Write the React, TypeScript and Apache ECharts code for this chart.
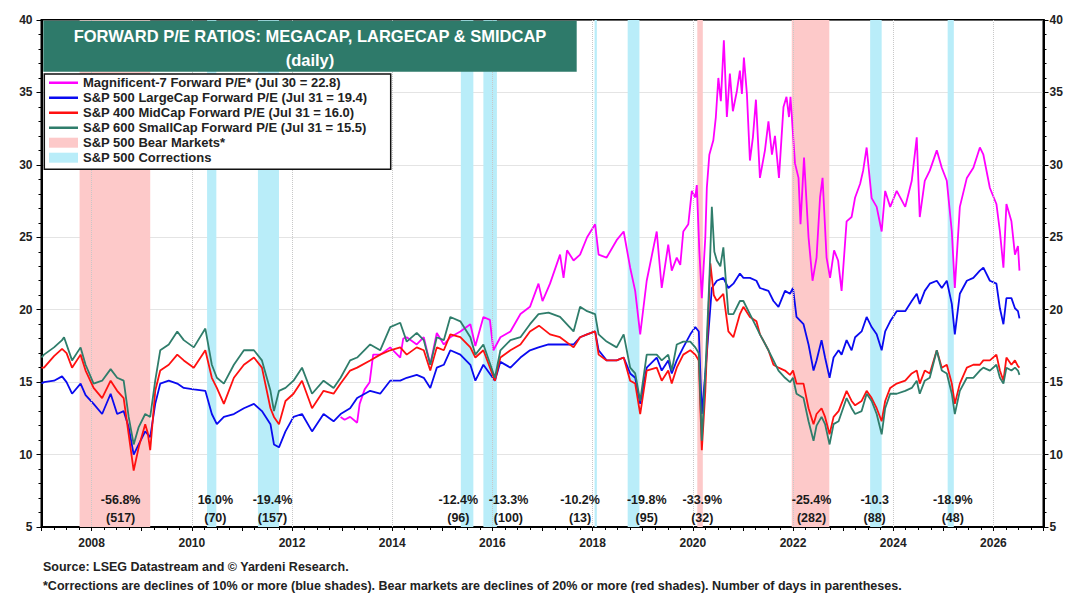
import React, { useEffect, useRef } from "react";
import * as echarts from "echarts";

const FONT = "'Liberation Sans', Arial, Helvetica, sans-serif";

const NAME_MAG7 = "Magnificent-7 Forward P/E* (Jul 30 = 22.8)";
const NAME_LARGE = "S&P 500 LargeCap Forward P/E (Jul 31 = 19.4)";
const NAME_MID = "S&P 400 MidCap Forward P/E (Jul 31 = 16.0)";
const NAME_SMALL = "S&P 600 SmallCap Forward P/E (Jul 31 = 15.5)";
const NAME_BEAR = "S&P 500 Bear Markets*";
const NAME_CORR = "S&P 500 Corrections";

// [decimal year, forward P/E]
const MAG7: [number, number][] = [
  [2012.97, 12.6], [2013.05, 12.4], [2013.16, 12.6], [2013.3, 12.2], [2013.35, 13.5], [2013.45, 14.5],
  [2013.55, 15.0], [2013.62, 16.9], [2013.76, 16.9], [2013.96, 17.4], [2014.16, 16.7], [2014.22, 18.0],
  [2014.29, 18.1], [2014.49, 17.6], [2014.63, 18.1], [2014.76, 16.2], [2014.89, 18.4], [2015.03, 17.6],
  [2015.16, 18.1], [2015.36, 18.5], [2015.56, 19.0], [2015.66, 17.5], [2015.82, 19.5], [2015.95, 19.3],
  [2016.02, 17.2], [2016.16, 18.1], [2016.36, 18.5], [2016.56, 19.7], [2016.75, 20.2], [2016.92, 21.8],
  [2017.0, 20.6], [2017.15, 21.8], [2017.35, 23.8], [2017.42, 22.2], [2017.49, 24.1], [2017.62, 23.4],
  [2017.75, 23.8], [2017.89, 25.0], [2018.05, 25.9], [2018.12, 23.8], [2018.28, 23.6], [2018.48, 24.8],
  [2018.62, 25.4], [2018.75, 22.9], [2018.85, 21.3], [2018.95, 18.3], [2019.08, 22.0], [2019.28, 25.4],
  [2019.38, 21.5], [2019.51, 24.5], [2019.58, 22.7], [2019.68, 23.6], [2019.75, 23.1], [2019.81, 25.4],
  [2019.91, 25.9], [2019.98, 28.2], [2020.05, 27.75], [2020.08, 28.6], [2020.13, 24.1], [2020.18, 20.8],
  [2020.25, 25.0], [2020.28, 28.4], [2020.33, 30.7], [2020.41, 31.7], [2020.46, 33.3], [2020.51, 36.0],
  [2020.56, 34.4], [2020.62, 38.6], [2020.68, 33.3], [2020.74, 36.3], [2020.8, 33.7], [2020.88, 35.1],
  [2020.94, 36.5], [2020.98, 34.9], [2021.02, 37.4], [2021.08, 34.9], [2021.14, 30.3], [2021.2, 31.9],
  [2021.26, 34.5], [2021.34, 29.1], [2021.44, 31.0], [2021.51, 33.0], [2021.58, 30.7], [2021.64, 32.0],
  [2021.72, 29.1], [2021.81, 34.0], [2021.87, 34.7], [2021.92, 33.3], [2021.95, 34.7], [2022.04, 30.1],
  [2022.11, 29.1], [2022.15, 25.9], [2022.22, 30.5], [2022.31, 25.0], [2022.39, 22.0], [2022.47, 23.6],
  [2022.54, 27.75], [2022.59, 29.1], [2022.67, 23.6], [2022.74, 22.2], [2022.82, 24.1], [2022.9, 23.4],
  [2022.97, 21.3], [2023.07, 26.1], [2023.17, 26.4], [2023.24, 27.75], [2023.34, 28.7], [2023.4, 29.6],
  [2023.47, 31.2], [2023.57, 27.7], [2023.67, 27.1], [2023.77, 25.4], [2023.84, 28.2], [2023.94, 27.1],
  [2024.07, 28.2], [2024.24, 27.1], [2024.37, 28.9], [2024.47, 31.9], [2024.53, 26.4], [2024.63, 28.9],
  [2024.73, 29.6], [2024.87, 31.0], [2024.97, 29.8], [2025.07, 28.9], [2025.17, 25.4], [2025.23, 21.5],
  [2025.33, 27.1], [2025.47, 29.1], [2025.6, 29.8], [2025.73, 31.2], [2025.8, 30.7], [2025.93, 28.4],
  [2026.06, 27.3], [2026.13, 25.4], [2026.2, 22.9], [2026.26, 27.3], [2026.36, 26.1], [2026.43, 23.8],
  [2026.49, 24.4], [2026.52, 22.7],
];

const LARGE: [number, number][] = [
  [2007.0, 14.9], [2007.05, 15.0], [2007.25, 15.1], [2007.41, 15.4], [2007.5, 15.0], [2007.61, 14.2],
  [2007.78, 14.9], [2007.88, 14.1], [2008.04, 13.5], [2008.21, 12.8], [2008.38, 14.2], [2008.51, 12.8],
  [2008.64, 13.0], [2008.74, 11.9], [2008.84, 10.0], [2008.94, 10.7], [2009.07, 11.6], [2009.17, 11.2],
  [2009.27, 13.5], [2009.37, 14.9], [2009.54, 15.1], [2009.71, 14.9], [2009.84, 14.6], [2010.04, 14.5],
  [2010.27, 14.4], [2010.4, 12.8], [2010.5, 12.1], [2010.64, 12.6], [2010.84, 12.8], [2011.04, 13.2],
  [2011.24, 13.5], [2011.4, 13.0], [2011.57, 12.1], [2011.64, 10.7], [2011.74, 10.5], [2011.87, 11.6],
  [2012.03, 12.6], [2012.2, 12.8], [2012.4, 11.6], [2012.63, 12.8], [2012.83, 12.3], [2012.97, 12.8],
  [2013.16, 13.2], [2013.3, 13.9], [2013.56, 14.4], [2013.76, 14.2], [2013.96, 15.1], [2014.16, 15.1],
  [2014.29, 15.3], [2014.49, 15.5], [2014.63, 15.3], [2014.76, 14.6], [2014.89, 16.0], [2015.03, 16.2],
  [2015.16, 17.2], [2015.36, 16.9], [2015.56, 16.2], [2015.66, 15.1], [2015.82, 16.2], [2016.05, 15.1],
  [2016.16, 16.4], [2016.36, 16.0], [2016.56, 16.7], [2016.75, 17.2], [2016.92, 17.4], [2017.12, 17.6],
  [2017.35, 17.6], [2017.62, 17.6], [2017.75, 18.1], [2017.89, 18.3], [2018.05, 18.5], [2018.12, 17.2],
  [2018.28, 16.5], [2018.48, 16.5], [2018.62, 16.7], [2018.75, 15.6], [2018.85, 15.3], [2018.95, 13.5],
  [2019.08, 16.0], [2019.28, 16.7], [2019.38, 15.8], [2019.51, 16.5], [2019.58, 15.6], [2019.68, 16.5],
  [2019.81, 17.4], [2019.95, 18.3], [2020.05, 18.8], [2020.12, 18.5], [2020.18, 12.8], [2020.25, 15.6],
  [2020.38, 21.5], [2020.48, 22.0], [2020.61, 22.2], [2020.71, 21.5], [2020.81, 21.8], [2020.94, 22.5],
  [2021.01, 22.2], [2021.14, 22.2], [2021.27, 22.0], [2021.34, 21.5], [2021.51, 21.3], [2021.61, 20.6],
  [2021.71, 20.2], [2021.84, 21.3], [2021.94, 21.1], [2022.0, 21.5], [2022.07, 19.5], [2022.21, 19.0],
  [2022.31, 17.6], [2022.41, 15.8], [2022.47, 16.5], [2022.57, 17.9], [2022.64, 16.7], [2022.73, 15.3],
  [2022.81, 16.7], [2022.91, 17.2], [2022.97, 16.9], [2023.07, 17.9], [2023.17, 17.2], [2023.24, 18.1],
  [2023.37, 18.5], [2023.47, 19.5], [2023.57, 18.8], [2023.67, 18.3], [2023.77, 17.2], [2023.84, 18.5],
  [2023.94, 19.2], [2024.07, 19.9], [2024.24, 19.9], [2024.37, 20.6], [2024.47, 21.1], [2024.53, 20.4],
  [2024.63, 21.3], [2024.73, 21.8], [2024.87, 22.0], [2024.97, 21.5], [2025.07, 22.0], [2025.17, 20.4],
  [2025.23, 18.3], [2025.33, 21.1], [2025.47, 22.0], [2025.6, 22.2], [2025.73, 22.7], [2025.8, 22.9],
  [2025.93, 22.0], [2026.06, 21.8], [2026.13, 20.1], [2026.2, 19.0], [2026.26, 20.8], [2026.36, 20.8],
  [2026.43, 20.1], [2026.49, 19.9], [2026.52, 19.4],
];

const MID: [number, number][] = [
  [2007.0, 16.0], [2007.05, 16.0], [2007.25, 16.8], [2007.41, 17.3], [2007.5, 17.0], [2007.61, 16.0],
  [2007.78, 16.9], [2007.88, 15.8], [2008.04, 14.6], [2008.21, 13.9], [2008.38, 15.1], [2008.51, 14.4],
  [2008.64, 13.9], [2008.74, 11.4], [2008.84, 8.9], [2008.94, 10.5], [2009.07, 12.1], [2009.12, 11.5],
  [2009.17, 10.3], [2009.27, 14.4], [2009.37, 15.8], [2009.54, 16.2], [2009.71, 16.9], [2009.84, 16.5],
  [2010.04, 16.0], [2010.27, 17.2], [2010.4, 15.3], [2010.5, 14.6], [2010.64, 13.5], [2010.84, 15.3],
  [2011.04, 16.2], [2011.24, 16.7], [2011.4, 16.0], [2011.57, 13.2], [2011.64, 12.6], [2011.74, 12.1],
  [2011.87, 13.7], [2012.03, 14.2], [2012.2, 15.1], [2012.4, 13.2], [2012.63, 14.4], [2012.83, 14.2],
  [2012.97, 14.9], [2013.16, 15.8], [2013.3, 16.0], [2013.56, 16.5], [2013.76, 16.9], [2013.96, 17.2],
  [2014.16, 17.4], [2014.29, 16.9], [2014.49, 17.4], [2014.63, 17.2], [2014.76, 15.8], [2014.89, 17.4],
  [2015.03, 17.2], [2015.16, 18.3], [2015.36, 18.1], [2015.56, 17.4], [2015.66, 16.7], [2015.82, 17.2],
  [2016.05, 15.1], [2016.16, 16.7], [2016.36, 17.2], [2016.56, 17.6], [2016.75, 18.5], [2016.93, 18.9],
  [2017.15, 18.3], [2017.35, 18.1], [2017.62, 17.4], [2017.75, 18.1], [2017.89, 18.3], [2018.05, 18.5],
  [2018.12, 16.9], [2018.28, 16.5], [2018.48, 16.5], [2018.62, 16.7], [2018.75, 15.1], [2018.85, 14.9],
  [2018.95, 12.8], [2019.08, 15.8], [2019.28, 16.0], [2019.38, 15.1], [2019.51, 15.8], [2019.58, 14.9],
  [2019.68, 16.0], [2019.81, 16.9], [2019.95, 17.2], [2020.05, 16.9], [2020.12, 16.5], [2020.18, 10.3],
  [2020.25, 14.4], [2020.35, 23.2], [2020.42, 21.0], [2020.48, 20.6], [2020.61, 21.1], [2020.71, 18.5],
  [2020.81, 18.1], [2020.94, 19.7], [2021.01, 20.2], [2021.14, 19.5], [2021.27, 19.2], [2021.34, 18.3],
  [2021.51, 17.2], [2021.61, 16.2], [2021.71, 16.0], [2021.84, 15.8], [2021.94, 15.5], [2022.0, 15.8],
  [2022.07, 14.9], [2022.21, 14.9], [2022.31, 13.2], [2022.41, 12.1], [2022.47, 12.8], [2022.57, 13.2],
  [2022.64, 12.6], [2022.73, 11.4], [2022.81, 12.6], [2022.91, 13.0], [2023.07, 14.4], [2023.17, 13.7],
  [2023.24, 13.4], [2023.37, 13.7], [2023.47, 14.4], [2023.57, 13.9], [2023.67, 13.2], [2023.77, 12.3],
  [2023.84, 13.7], [2023.94, 14.6], [2024.07, 14.9], [2024.24, 15.1], [2024.37, 15.6], [2024.47, 15.8],
  [2024.53, 14.9], [2024.63, 15.8], [2024.73, 15.6], [2024.87, 17.2], [2024.97, 16.0], [2025.07, 16.2],
  [2025.17, 14.9], [2025.23, 13.5], [2025.33, 14.9], [2025.47, 16.0], [2025.6, 16.2], [2025.73, 16.2],
  [2025.8, 16.5], [2025.93, 16.5], [2026.06, 16.9], [2026.13, 15.8], [2026.2, 15.1], [2026.26, 16.7],
  [2026.36, 16.2], [2026.43, 16.5], [2026.49, 16.1], [2026.52, 16.0],
];

const SMALL: [number, number][] = [
  [2007.0, 16.7], [2007.05, 16.9], [2007.25, 17.4], [2007.41, 17.9], [2007.45, 18.1], [2007.61, 16.5],
  [2007.78, 17.4], [2007.88, 16.2], [2008.04, 14.9], [2008.21, 15.1], [2008.38, 15.9], [2008.51, 15.3],
  [2008.64, 15.1], [2008.74, 12.6], [2008.84, 10.7], [2008.94, 11.9], [2009.07, 12.8], [2009.17, 12.6],
  [2009.27, 15.1], [2009.37, 17.2], [2009.54, 17.6], [2009.71, 18.5], [2009.84, 17.9], [2010.04, 17.4],
  [2010.27, 18.7], [2010.4, 16.2], [2010.5, 15.3], [2010.64, 14.9], [2010.84, 16.2], [2011.04, 17.2],
  [2011.24, 17.2], [2011.4, 16.5], [2011.57, 14.4], [2011.64, 13.0], [2011.74, 14.4], [2011.87, 14.6],
  [2012.03, 15.1], [2012.2, 16.0], [2012.4, 14.2], [2012.63, 15.1], [2012.83, 14.6], [2012.97, 15.3],
  [2013.16, 16.5], [2013.3, 16.7], [2013.56, 17.6], [2013.76, 17.2], [2013.96, 18.8], [2014.16, 19.1],
  [2014.29, 17.8], [2014.49, 18.4], [2014.63, 17.9], [2014.76, 16.2], [2014.89, 18.1], [2015.03, 17.9],
  [2015.16, 19.5], [2015.36, 19.2], [2015.56, 18.1], [2015.66, 16.9], [2015.82, 17.6], [2016.05, 15.3],
  [2016.16, 17.2], [2016.36, 17.9], [2016.56, 18.1], [2016.75, 19.0], [2016.92, 19.7], [2017.12, 19.8],
  [2017.35, 19.5], [2017.62, 18.5], [2017.75, 20.2], [2017.89, 19.9], [2018.05, 19.7], [2018.12, 18.3],
  [2018.28, 17.8], [2018.48, 17.4], [2018.62, 18.3], [2018.75, 16.0], [2018.85, 15.6], [2018.95, 13.7],
  [2019.08, 16.9], [2019.28, 16.9], [2019.38, 16.5], [2019.51, 16.9], [2019.58, 15.8], [2019.68, 17.6],
  [2019.81, 17.8], [2019.95, 17.8], [2020.05, 17.4], [2020.12, 17.0], [2020.18, 10.95], [2020.25, 15.6],
  [2020.33, 22.0], [2020.38, 27.1], [2020.43, 24.0], [2020.48, 23.4], [2020.55, 23.0], [2020.61, 24.3],
  [2020.71, 19.7], [2020.81, 19.7], [2020.94, 20.6], [2021.01, 20.6], [2021.14, 19.7], [2021.27, 18.8],
  [2021.34, 18.3], [2021.51, 17.2], [2021.61, 16.5], [2021.71, 15.8], [2021.84, 15.3], [2021.94, 15.0],
  [2022.0, 15.3], [2022.07, 14.2], [2022.21, 13.9], [2022.31, 12.3], [2022.41, 10.95], [2022.47, 12.0],
  [2022.57, 12.6], [2022.64, 12.1], [2022.73, 10.7], [2022.81, 12.1], [2022.91, 12.3], [2023.07, 13.9],
  [2023.17, 13.2], [2023.24, 12.8], [2023.37, 13.0], [2023.47, 14.2], [2023.57, 13.7], [2023.67, 12.8],
  [2023.77, 11.4], [2023.84, 13.2], [2023.94, 14.2], [2024.07, 14.2], [2024.24, 14.4], [2024.37, 14.6],
  [2024.47, 15.1], [2024.53, 14.2], [2024.63, 15.1], [2024.73, 15.3], [2024.87, 17.2], [2024.97, 15.8],
  [2025.07, 15.6], [2025.17, 14.2], [2025.23, 12.8], [2025.33, 14.4], [2025.47, 15.3], [2025.6, 15.3],
  [2025.73, 15.8], [2025.8, 16.0], [2025.93, 15.8], [2026.06, 16.2], [2026.13, 15.3], [2026.2, 14.9],
  [2026.26, 16.0], [2026.36, 15.8], [2026.43, 16.0], [2026.49, 15.8], [2026.52, 15.5],
];

const BEAR_MARKETS: [number, number][] = [
  [2007.76, 2009.17], [2020.09, 2020.2], [2021.975, 2022.725],
];
const CORRECTIONS: [number, number][] = [
  [2010.305, 2010.49], [2011.32, 2011.74], [2015.37, 2015.62], [2015.82, 2016.09],
  [2018.04, 2018.085], [2018.7, 2018.935], [2023.54, 2023.77], [2025.087, 2025.21],
];

const ANNOT_X = [2008.58, 2010.47, 2011.61, 2015.32, 2016.32, 2017.75, 2019.08, 2020.19, 2022.37, 2023.63, 2025.19];
const ANNOT_PCT = ["-56.8%", "16.0%", "-19.4%", "-12.4%", "-13.3%", "-10.2%", "-19.8%", "-33.9%", "-25.4%", "-10.3", "-18.9%"];
const ANNOT_DAYS = ["(517)", "(70)", "(157)", "(96)", "(100)", "(13)", "(95)", "(32)", "(282)", "(88)", "(48)"];
const ANNOT_Y = 6.25;

const GRID_YEARS = [2008, 2010, 2012, 2014, 2016, 2018, 2020, 2022, 2024, 2026];

const X_MIN = 2007;
const X_MAX = 2027;
const Y_MIN = 5;
const Y_MAX = 40;
const Y_STEP = 5;

const TITLE_LINE1 = "FORWARD P/E RATIOS: MEGACAP, LARGECAP & SMIDCAP";
const TITLE_LINE2 = "(daily)";
const SOURCE_TEXT = "Source: LSEG Datastream and \u00A9 Yardeni Research.";
const NOTE_TEXT =
  "*Corrections are declines of 10% or more (blue shades). Bear markets are declines of 20% or more (red shades). Number of days in parentheses.";

const C_MAG = "#ff00ff";
const C_LARGE = "#0a0af0";
const C_MID = "#ff1010";
const C_SMALL = "#2f7d6b";
const C_BEAR = "#fdc9c9";
const C_CORR = "#b9edf9";
const C_TITLE = "#2e7a6a";

// thin horizontal bar centred in a 29x10 box (legend line swatch)
const LINE_ICON = "path://M0,0H0.01V0.01H0Z M0,3.7H29V6.3H0Z M28.99,9.99H29V10H28.99Z";

export default function App() {
  const ref = useRef<HTMLDivElement>(null);

  useEffect(() => {
    if (!ref.current) return;
    const chart = echarts.init(ref.current, undefined, { renderer: "svg" });

    const yAxisCommon = {
      type: "value",
      min: Y_MIN,
      max: Y_MAX,
      interval: Y_STEP,
      axisLine: { show: true, lineStyle: { color: "#000", width: 2 } },
      axisTick: { show: true, length: 5, lineStyle: { color: "#000", width: 1 } },
      minorTick: { show: true, splitNumber: 5, length: 3, lineStyle: { color: "#000", width: 1 } },
      axisLabel: { color: "#222", fontWeight: "bold", fontSize: 12, fontFamily: FONT },
    };

    const lineSeries = (name: string, data: [number, number][], color: string, z: number) => ({
      type: "line",
      name,
      data,
      symbol: "none",
      showSymbol: false,
      silent: true,
      z,
      lineStyle: { color, width: 1.8 },
      itemStyle: { color },
    });

    chart.setOption({
      animation: false,
      backgroundColor: "#ffffff",
      textStyle: { fontFamily: FONT },
      grid: {
        left: 41.5,
        right: 36.5,
        top: 20,
        bottom: 81,
        show: true,
        borderColor: "#000",
        borderWidth: 2,
        backgroundColor: "transparent",
        containLabel: false,
        outerBoundsMode: "none",
      },
      xAxis: {
        type: "value",
        min: X_MIN,
        max: X_MAX,
        interval: 1,
        axisLine: { show: true, lineStyle: { color: "#000", width: 2 } },
        axisTick: { show: true, length: 4, lineStyle: { color: "#000", width: 1 } },
        minorTick: { show: true, splitNumber: 4, length: 3, lineStyle: { color: "#000", width: 1 } },
        splitLine: { show: false },
        axisLabel: {
          formatter: (v: number) => (Math.round(v) % 2 === 0 ? String(Math.round(v)) : ""),
          color: "#222",
          fontWeight: "bold",
          fontSize: 12,
          fontFamily: FONT,
          margin: 10,
          showMinLabel: true,
          showMaxLabel: true,
        },
      },
      yAxis: [
        {
          ...yAxisCommon,
          position: "left",
          axisLabel: { ...yAxisCommon.axisLabel, margin: 9 },
          splitLine: { show: true, lineStyle: { type: "dotted", color: "#c8c8c8", width: 1 } },
        },
        {
          ...yAxisCommon,
          position: "right",
          axisLabel: { ...yAxisCommon.axisLabel, margin: 6 },
          splitLine: { show: false },
        },
      ],
      legend: {
        data: [
          { name: NAME_MAG7, icon: LINE_ICON },
          { name: NAME_LARGE, icon: LINE_ICON },
          { name: NAME_MID, icon: LINE_ICON },
          { name: NAME_SMALL, icon: LINE_ICON },
          { name: NAME_BEAR, icon: "rect" },
          { name: NAME_CORR, icon: "rect" },
        ],
        orient: "vertical",
        left: 49,
        top: 75.2,
        padding: 0,
        itemGap: 0,
        itemWidth: 29,
        itemHeight: 10,
        z: 20,
        selectedMode: false,
        textStyle: { color: "#222", fontWeight: "bold", fontSize: 13, fontFamily: FONT, lineHeight: 15 },
      },
      graphic: [
        {
          type: "rect",
          z: 10,
          silent: true,
          shape: { x: 43.3, y: 20.7, width: 533.4, height: 51 },
          style: { fill: C_TITLE },
        },
        {
          type: "text",
          z: 11,
          silent: true,
          x: 310,
          y: 35.5,
          style: {
            text: TITLE_LINE1,
            fill: "#ffffff",
            fontFamily: FONT,
            fontWeight: "bold",
            fontSize: 16.5,
            align: "center",
            verticalAlign: "middle",
          },
        },
        {
          type: "text",
          z: 11,
          silent: true,
          x: 310,
          y: 59.5,
          style: {
            text: TITLE_LINE2,
            fill: "#ffffff",
            fontFamily: FONT,
            fontWeight: "bold",
            fontSize: 16.5,
            align: "center",
            verticalAlign: "middle",
          },
        },
        {
          type: "rect",
          z: 10,
          silent: true,
          shape: { x: 44.3, y: 74, width: 346.4, height: 95.3 },
          style: { fill: "#ffffff", stroke: "#111", lineWidth: 1.5 },
        },
        {
          type: "text",
          silent: true,
          x: 43,
          y: 567,
          style: {
            text: SOURCE_TEXT,
            fill: "#222",
            fontFamily: FONT,
            fontWeight: "bold",
            fontSize: 12.5,
            align: "left",
            verticalAlign: "middle",
          },
        },
        {
          type: "text",
          silent: true,
          x: 43,
          y: 585.5,
          style: {
            text: NOTE_TEXT,
            fill: "#222",
            fontFamily: FONT,
            fontWeight: "bold",
            fontSize: 12.5,
            align: "left",
            verticalAlign: "middle",
          },
        },
      ],
      series: [
        {
          type: "line",
          name: "gridlines",
          data: [],
          silent: true,
          z: 1,
          markLine: {
            silent: true,
            symbol: ["none", "none"],
            label: { show: false },
            lineStyle: { type: "dotted", color: "#c8c8c8", width: 1 },
            data: GRID_YEARS.map((y) => ({ xAxis: y })),
          },
        },
        {
          type: "line",
          name: NAME_BEAR,
          data: [],
          silent: true,
          z: 2,
          itemStyle: { color: C_BEAR },
          lineStyle: { color: C_BEAR },
          markArea: {
            silent: true,
            itemStyle: { color: C_BEAR },
            data: BEAR_MARKETS.map(([a, b]) => [{ xAxis: a }, { xAxis: b }]),
          },
        },
        {
          type: "line",
          name: NAME_CORR,
          data: [],
          silent: true,
          z: 2,
          itemStyle: { color: C_CORR },
          lineStyle: { color: C_CORR },
          markArea: {
            silent: true,
            itemStyle: { color: C_CORR },
            data: CORRECTIONS.map(([a, b]) => [{ xAxis: a }, { xAxis: b }]),
          },
        },
        lineSeries(NAME_MAG7, MAG7, C_MAG, 3),
        lineSeries(NAME_LARGE, LARGE, C_LARGE, 4),
        lineSeries(NAME_MID, MID, C_MID, 5),
        lineSeries(NAME_SMALL, SMALL, C_SMALL, 6),
        {
          type: "scatter",
          name: "annotations",
          silent: true,
          z: 8,
          symbolSize: 1,
          itemStyle: { color: "rgba(0,0,0,0)", opacity: 1 },
          data: ANNOT_X.map((x, i) => [x, ANNOT_Y, i]),
          label: {
            show: true,
            position: "inside",
            formatter: (p: any) => ANNOT_PCT[p.data[2]] + "\n" + ANNOT_DAYS[p.data[2]],
            color: "#1a1a1a",
            opacity: 1,
            fontSize: 12.5,
            fontWeight: "bold",
            fontFamily: FONT,
            lineHeight: 17.5,
            align: "center",
          },
        },
      ],
    });

    return () => chart.dispose();
  }, []);

  return (
    <div
      ref={ref}
      style={{ position: "fixed", left: 0, top: 0, width: 1080, height: 608, background: "#fff" }}
    />
  );
}
